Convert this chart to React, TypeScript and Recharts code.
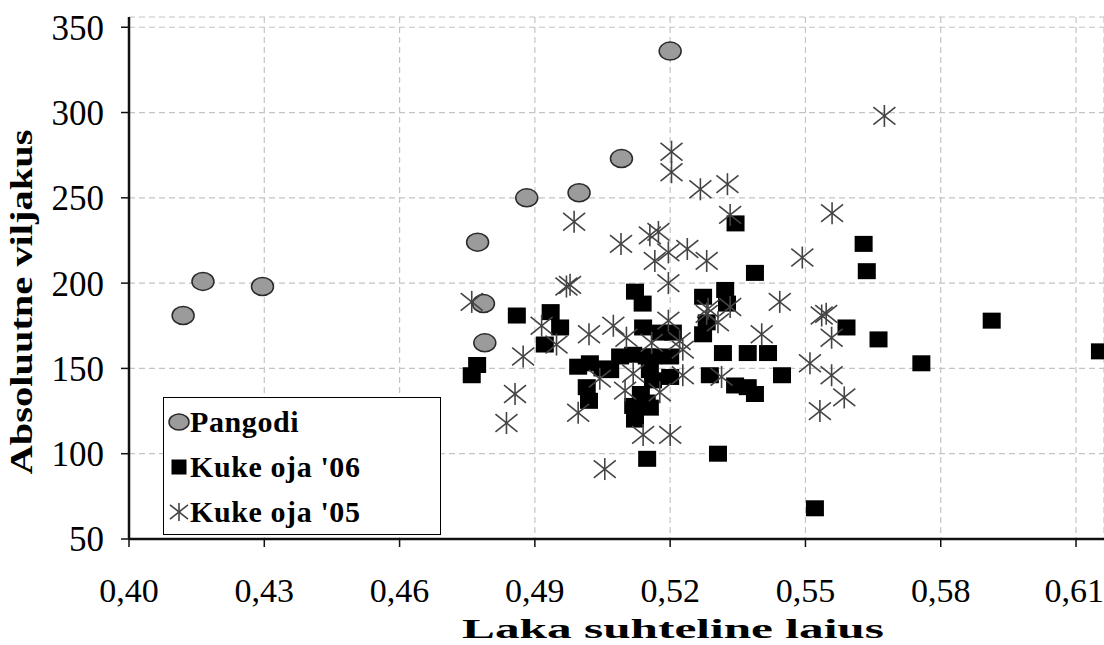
import React from 'react';
import { ScatterChart, Scatter, XAxis, YAxis, CartesianGrid, Legend } from 'recharts';

const xTicks = [0.4, 0.43, 0.46, 0.49, 0.52, 0.55, 0.58, 0.61];
const yTicks = [50, 100, 150, 200, 250, 300, 350];

// [laka suhteline laius, absoluutne viljakus]
const pangodi: [number, number][] = [
  [0.412, 181], [0.4164, 201], [0.4296, 198], [0.4773, 224], [0.4786, 188],
  [0.4789, 165], [0.4882, 250], [0.4998, 253], [0.5092, 273], [0.52, 336],
];

const kukeOja06: [number, number][] = [
  [0.476, 146], [0.4772, 152], [0.486, 181], [0.4922, 164], [0.4935, 183],
  [0.4956, 174], [0.4996, 151], [0.5015, 139], [0.502, 131], [0.5022, 153],
  [0.505, 150], [0.5067, 149], [0.5089, 157], [0.5118, 158], [0.5122, 195],
  [0.5139, 188], [0.514, 174], [0.5118, 128], [0.5122, 120], [0.5135, 135],
  [0.5148, 130], [0.5149, 97], [0.5148, 157], [0.5155, 149], [0.5162, 143],
  [0.5155, 127], [0.5162, 157], [0.5177, 171], [0.52, 157], [0.5206, 171],
  [0.52, 145], [0.5273, 192], [0.5273, 170], [0.5281, 177], [0.5288, 146],
  [0.5306, 100], [0.5317, 159], [0.5322, 196], [0.5326, 188], [0.5344, 140],
  [0.5345, 235], [0.5372, 159], [0.5372, 139], [0.5388, 135], [0.5388, 206],
  [0.5417, 159], [0.5448, 146], [0.5521, 68], [0.5591, 174], [0.5629, 223],
  [0.5636, 207], [0.5662, 167], [0.5757, 153], [0.5913, 178], [0.6153, 160],
];

const kukeOja05: [number, number][] = [
  [0.476, 189], [0.4837, 118], [0.4856, 135], [0.4874, 157], [0.4915, 175],
  [0.4948, 164], [0.497, 198], [0.4978, 199], [0.4987, 236], [0.4996, 124],
  [0.502, 170], [0.5044, 144], [0.5055, 91], [0.5074, 175], [0.5091, 223],
  [0.51, 137], [0.5103, 168], [0.5118, 147], [0.514, 111], [0.5159, 165],
  [0.5155, 228], [0.5166, 213], [0.5174, 230], [0.5177, 136], [0.5196, 218],
  [0.5196, 200], [0.5196, 178], [0.52, 111], [0.5203, 277], [0.5203, 265],
  [0.5221, 166], [0.5228, 161], [0.5228, 146], [0.5238, 220], [0.5267, 255],
  [0.5281, 213], [0.5281, 182], [0.5284, 185], [0.5306, 177], [0.5314, 145],
  [0.5327, 258], [0.5333, 240], [0.5333, 186], [0.5403, 170], [0.5443, 189],
  [0.5493, 215], [0.551, 153], [0.5532, 125], [0.5536, 181], [0.5546, 182],
  [0.5558, 168], [0.5558, 146], [0.5559, 241], [0.5586, 133], [0.5675, 298],
];

const toPoints = (arr: [number, number][]) => arr.map(([x, y]) => ({ x, y }));

const serif = '"Liberation Serif", "DejaVu Serif", serif';

const CircleMark = (p: any) => (
  <ellipse cx={p.cx} cy={p.cy} rx={p.rx ?? 11} ry={p.ry ?? 9} fill="#9b9b9b" stroke="#2a2a2a" strokeWidth={1.5} />
);
const SquareMark = (p: any) => {
  const w = p.w ?? 18;
  const h = p.h ?? 16;
  return <rect x={p.cx - w / 2} y={p.cy - h / 2} width={w} height={h} fill="#000" />;
};
const StarMark = (p: any) => {
  const s = p.s ?? 11;
  return (
    <g stroke="#444" strokeWidth={1.6}>
      <line x1={p.cx} y1={p.cy - s} x2={p.cx} y2={p.cy + s} />
      <line x1={p.cx - s} y1={p.cy - s * 0.8} x2={p.cx + s} y2={p.cy + s * 0.8} />
      <line x1={p.cx - s} y1={p.cy + s * 0.8} x2={p.cx + s} y2={p.cy - s * 0.8} />
    </g>
  );
};

const legendItems = [
  { name: 'Pangodi', mark: <CircleMark cx={12} cy={12} rx={10} ry={8} /> },
  { name: "Kuke oja '06", mark: <SquareMark cx={12} cy={12} w={15} h={15} /> },
  { name: "Kuke oja '05", mark: <StarMark cx={12} cy={12} s={9} /> },
];

const renderLegend = () => (
  <div
    style={{
      width: 278,
      height: 138,
      border: '1.5px solid #000',
      background: '#fff',
      boxSizing: 'border-box',
      fontFamily: serif,
      fontWeight: 'bold',
      fontSize: 30,
      color: '#000',
      paddingTop: 1,
    }}
  >
    {legendItems.map(({ name, mark }) => (
      <div key={name} style={{ height: 45, display: 'flex', alignItems: 'center' }}>
        <svg width={24} height={24} style={{ marginLeft: 3 }}>
          {mark}
        </svg>
        <span style={{ marginLeft: -1, lineHeight: 1, letterSpacing: 0.6 }}>{name}</span>
      </div>
    ))}
  </div>
);

const renderYLabel = () => (
  <text
    x={32}
    y={302}
    transform="rotate(-90, 32, 302)"
    textAnchor="middle"
    fontFamily={serif}
    fontWeight="bold"
    fontSize={31}
    fill="#000"
    textLength={345}
    lengthAdjust="spacingAndGlyphs"
  >
    Absoluutne viljakus
  </text>
);

const renderXLabel = () => (
  <text
    x={673}
    y={638}
    textAnchor="middle"
    fontFamily={serif}
    fontWeight="bold"
    fontSize={28}
    fill="#000"
    textLength={422}
    lengthAdjust="spacingAndGlyphs"
  >
    Laka suhteline laius
  </text>
);

export default function App() {
  return (
    <div
      style={{
        position: 'absolute',
        left: 0,
        top: 0,
        width: 1104,
        height: 645,
        overflow: 'hidden',
        background: '#fff',
      }}
    >
      <ScatterChart width={1104} height={645} margin={{ top: 17, right: 0, bottom: 0, left: 0 }}>
        <CartesianGrid stroke="#c4c4c4" strokeDasharray="6 4" strokeWidth={1.2} />
        <XAxis
          type="number"
          dataKey="x"
          domain={[0.4, 0.6162]}
          ticks={xTicks}
          allowDataOverflow
          height={106}
          axisLine={{ stroke: '#111', strokeWidth: 2.5 }}
          tickLine={{ stroke: '#111', strokeWidth: 1.5 }}
          tickSize={8}
          tickMargin={31}
          tick={{ fontSize: 34, fill: '#000', fontFamily: serif }}
          tickFormatter={(v: number) => v.toFixed(2).replace('.', ',')}
          label={renderXLabel}
        />
        <YAxis
          type="number"
          dataKey="y"
          domain={[50, 356]}
          ticks={yTicks}
          allowDataOverflow
          width={129}
          axisLine={{ stroke: '#111', strokeWidth: 2.5 }}
          tickLine={{ stroke: '#111', strokeWidth: 1.5 }}
          tickSize={8}
          tickMargin={17}
          tick={{ fontSize: 35, fill: '#000', fontFamily: serif }}
          label={renderYLabel}
        />
        <Legend
          layout="horizontal"
          verticalAlign="middle"
          align="center"
          content={renderLegend}
          wrapperStyle={{ position: 'absolute', left: 163, top: 397, width: 278, height: 138 }}
        />
        <Scatter name="Pangodi" data={toPoints(pangodi)} shape={CircleMark} isAnimationActive={false} />
        <Scatter name="Kuke oja '06" data={toPoints(kukeOja06)} shape={SquareMark} isAnimationActive={false} />
        <Scatter name="Kuke oja '05" data={toPoints(kukeOja05)} shape={StarMark} isAnimationActive={false} />
      </ScatterChart>
    </div>
  );
}
